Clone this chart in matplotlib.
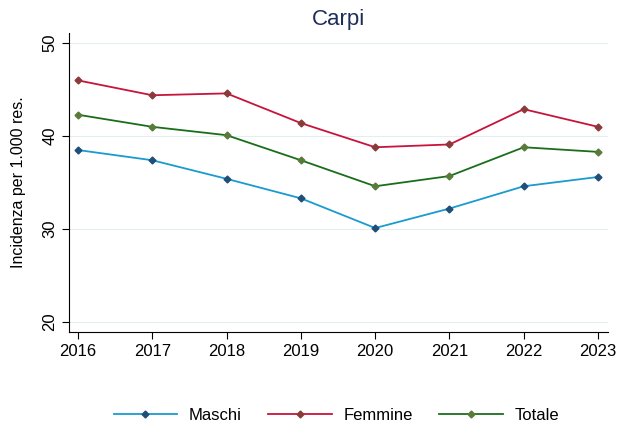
import matplotlib
matplotlib.use("Agg")
import matplotlib.pyplot as plt

plt.rcParams["font.family"] = ["Liberation Sans", "DejaVu Sans"]

# Data
anni = [2016, 2017, 2018, 2019, 2020, 2021, 2022, 2023]
maschi = [38.5, 37.4, 35.4, 33.3, 30.1, 32.2, 34.6, 35.6]
femmine = [46.0, 44.4, 44.6, 41.4, 38.8, 39.1, 42.9, 41.0]
totale = [42.3, 41.0, 40.1, 37.4, 34.6, 35.7, 38.8, 38.3]

fig = plt.figure(figsize=(6.17, 4.29), dpi=100)
ax = fig.add_axes([0.112, 0.226, 0.873, 0.697])

series = [
    ("Maschi", maschi, "#1a9bd0", "#1f4e79"),
    ("Femmine", femmine, "#c8143c", "#8b3a3a"),
    ("Totale", totale, "#1a6e1a", "#5a7a3a"),
]
for nome, vals, col, mcol in series:
    ax.plot(anni, vals, color=col, lw=1.3, marker="D", ms=3.5,
            mfc=mcol, mec=mcol, label=nome)

ax.set_xlim(2015.88, 2023.13)
ax.set_ylim(18.9, 51.1)
ax.set_xticks(anni)
ax.set_yticks([20, 30, 40, 50])
ax.tick_params(axis="y", labelrotation=90, labelsize=12, length=5)
ax.tick_params(axis="x", labelsize=12, length=5)
for lab in ax.get_yticklabels():
    lab.set_va("center")
ax.grid(axis="y", color="#e4eef0", lw=0.8)
ax.set_axisbelow(True)
for s in ["top", "right"]:
    ax.spines[s].set_visible(False)
ax.set_ylabel("Incidenza per 1.000 res.", fontsize=11.5, labelpad=12)
ax.set_title("Carpi", fontsize=16, color="#1e2d5a", pad=6)

fig.legend(loc="lower center", ncol=3, frameon=False, fontsize=12,
           bbox_to_anchor=(0.545, -0.02), handlelength=3.8,
           handletextpad=0.7, columnspacing=1.6)

fig.savefig("out.png", dpi=100)
